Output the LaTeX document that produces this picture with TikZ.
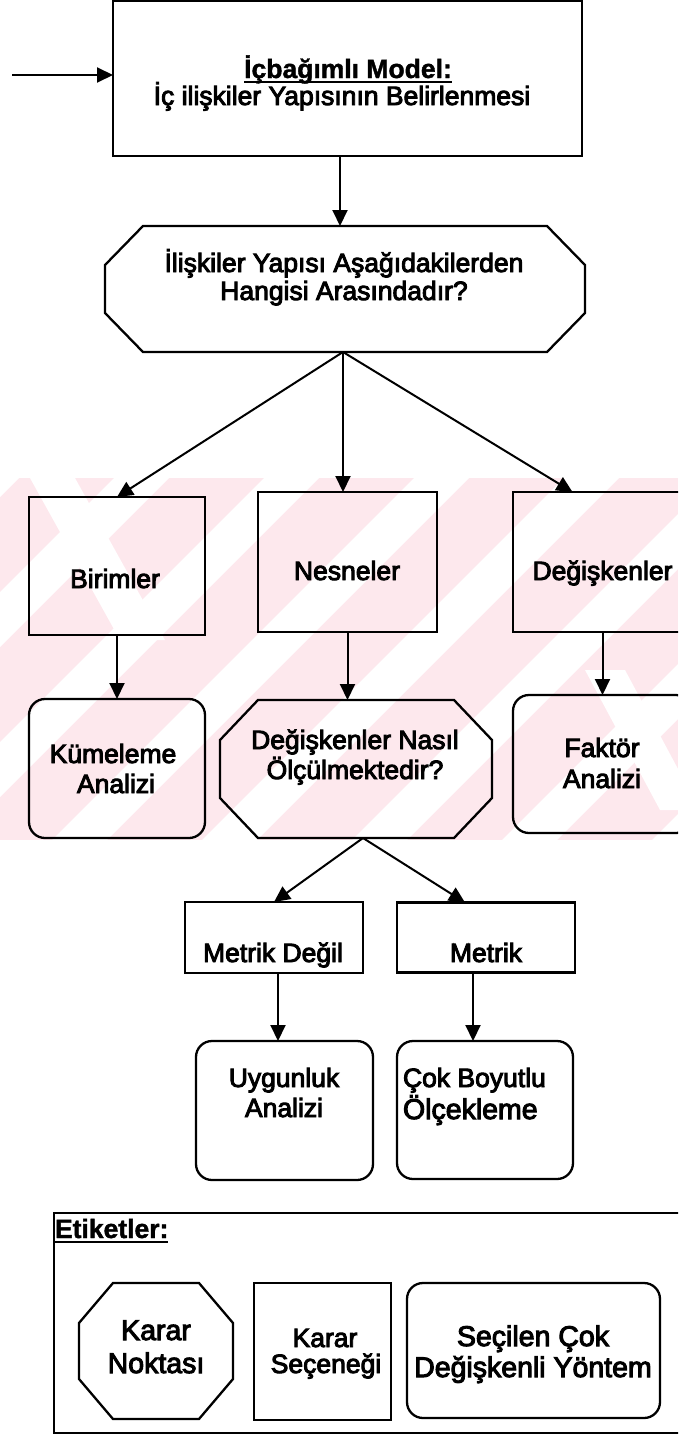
\documentclass[tikz,border=0pt]{standalone}
\usepackage{fontspec}
\setmainfont{Liberation Sans}
\newfontfamily\heavyfont{Liberation Sans}[FakeBold=3.5]
\newfontfamily\boldheavyfont{Liberation Sans Bold}[FakeBold=1.5]
\usetikzlibrary{arrows.meta}
\definecolor{wm}{RGB}{253,232,237}
\newcommand\octpath[3]{\draw[octline] ([xshift=#2]#1.north west) -- ([xshift=-#2]#1.north east) -- ([yshift=-#3]#1.north east) -- ([yshift=#3]#1.south east) -- ([xshift=-#2]#1.south east) -- ([xshift=#2]#1.south west) -- ([yshift=#3]#1.south west) -- ([yshift=-#3]#1.north west) -- cycle;}
\begin{document}
\begin{tikzpicture}[x=1pt,y=-1pt,
  box/.style={draw, line width=2.3pt, inner sep=0pt, outer sep=0pt},
  rbox/.style={box, rounded corners=16pt},
  ghost/.style={inner sep=0pt, outer sep=0pt},
  octline/.style={line width=2.3pt, line join=miter},
  txt/.style={inner sep=0pt, outer sep=0pt, anchor=base, font=\heavyfont\fontsize{26.5}{30}\selectfont},
  txtb/.style={txt, font=\boldheavyfont\fontsize{26.5}{30}\selectfont},
  txtl/.style={txt, font=\heavyfont\fontsize{28.5}{32}\selectfont},
  arr/.style={line width=2pt, -{Triangle[length=16pt,width=15pt]}},
  uline/.style={line width=2pt}
]
\useasboundingbox (0,0) rectangle (678,1435);
\clip (0,0) rectangle (678,1435);
\fill[white] (0,0) rectangle (678,1435);
% watermark
\begin{scope}
\clip (0,478) rectangle (678,840);
\fill[wm] (0,478) rectangle (678,840);
\foreach \c in {442,592,742,892,1042,1192,1342,1492} {
  \fill[white] (\c-478,478) -- (\c+55-478,478) -- (\c+55-840,840) -- (\c-840,840) -- cycle;
}
\fill[white] (30,478) -- (75,478) -- (165,640) -- (120,640) -- cycle;
\fill[white] (585,670) -- (625,670) -- (700,810) -- (660,810) -- cycle;
\end{scope}

% shapes
\node[box, minimum width=469pt, minimum height=155pt] (top) at (347.5,78.5) {};
\node[ghost, minimum width=480pt, minimum height=126pt] (o1) at (345,289) {};
\octpath{o1}{38pt}{39pt}
\node[box, minimum width=176pt, minimum height=138pt] (b) at (117,566) {};
\node[box, minimum width=179pt, minimum height=140pt] (n) at (347.5,562) {};
\node[box, minimum width=179pt, minimum height=140pt] (d) at (602.5,562) {};
\node[rbox, minimum width=176pt, minimum height=139pt] (k) at (117,768.5) {};
\node[ghost, minimum width=272pt, minimum height=138pt] (o2) at (356,769) {};
\octpath{o2}{38pt}{40pt}
\node[rbox, minimum width=179pt, minimum height=138pt] (f) at (602.5,764) {};
\node[box, minimum width=178pt, minimum height=71pt] (md) at (274,937.5) {};
\node[box, minimum width=178pt, minimum height=70pt] (m) at (486,937.5) {};
\node[rbox, minimum width=177pt, minimum height=139pt] (u) at (284.5,1110.5) {};
\node[rbox, minimum width=176pt, minimum height=138pt] (c) at (485,1110) {};
\node[box, minimum width=640pt, minimum height=220pt] (L) at (374,1323) {};
\node[ghost, minimum width=154pt, minimum height=136pt] (lo) at (156,1351) {};
\octpath{lo}{34pt}{40pt}
\node[box, minimum width=137pt, minimum height=137pt] (lr) at (322.5,1351.5) {};
\node[rbox, minimum width=253pt, minimum height=135pt] (lrr) at (533.5,1350.5) {};

% texts
\node[txtb] (t1) at (348,78) {İçbağımlı Model:};
\draw[uline] ([yshift=-4pt]t1.base west) -- ([yshift=-4pt]t1.base east);
\node[txt] (t2) at (342,105) {İç ilişkiler Yapısının Belirlenmesi};
\node[txt] (t3) at (344,272) {İlişkiler Yapısı Aşağıdakilerden};
\node[txt] (t4) at (344,300) {Hangisi Arasındadır?};
\node[txt] (tb) at (115,588) {Birimler};
\node[txt] (tn) at (347,580) {Nesneler};
\node[txt] (td) at (602.5,580) {Değişkenler};
\node[txt] (tk1) at (113,763) {Kümeleme};
\node[txt] (tk2) at (116,793) {Analizi};
\node[txt] (to1) at (355,749) {Değişkenler Nasıl};
\node[txt] (to2) at (355,779) {Ölçülmektedir?};
\node[txt] (tf1) at (602,757) {Faktör};
\node[txt] (tf2) at (602,788) {Analizi};
\node[txt] (tmd) at (273,962) {Metrik Değil};
\node[txt] (tm) at (486,962) {Metrik};
\node[txt] (tu1) at (284,1087) {Uygunluk};
\node[txt] (tu2) at (284,1117) {Analizi};
\node[txt, anchor=base west] (tc1) at (403,1087) {Çok Boyutlu};
\node[txtl, anchor=base west] (tc2) at (403,1119) {Ölçekleme};
\node[txtb, anchor=base west] (te) at (55,1238) {Etiketler:};
\draw[uline] ([yshift=-4pt]te.base west) -- ([yshift=-4pt]te.base east);
\node[txtl] (tlo1) at (156,1340) {Karar};
\node[txtl] (tlo2) at (156,1373) {Noktası};
\node[txt] (tlr1) at (325,1347) {Karar};
\node[txt] (tlr2) at (326,1373) {Seçeneği};
\node[txtl] (tlrr1) at (533,1346) {Seçilen Çok};
\node[txtl] (tlrr2) at (533,1377) {Değişkenli Yöntem};

% connectors
\coordinate (inA) at (12,75);
\draw[arr] (inA) -- (inA -| top.west);
\coordinate (x1) at (340,0);
\draw[arr] (top.south -| x1) -- (o1.north -| x1);
\coordinate (x2) at (343,0);
\draw[arr] (o1.south -| x2) -- (b.north);
\draw[arr] (o1.south -| x2) -- (n.north -| x2);
\draw[arr] (o1.south -| x2) -- ([xshift=-30pt]d.north);
\draw[arr] (b.south) -- (k.north);
\draw[arr] (n.south) -- (n.south |- o2.north);
\draw[arr] (d.south) -- (d.south |- f.north);
\coordinate (x3) at (363,0);
\draw[arr] (o2.south -| x3) -- (md.north);
\draw[arr] (o2.south -| x3) -- ([xshift=-21pt]m.north);
\coordinate (x4) at (278,0);
\draw[arr] (md.south -| x4) -- (u.north -| x4);
\coordinate (x5) at (473,0);
\draw[arr] (m.south -| x5) -- (c.north -| x5);
\end{tikzpicture}
\end{document}
